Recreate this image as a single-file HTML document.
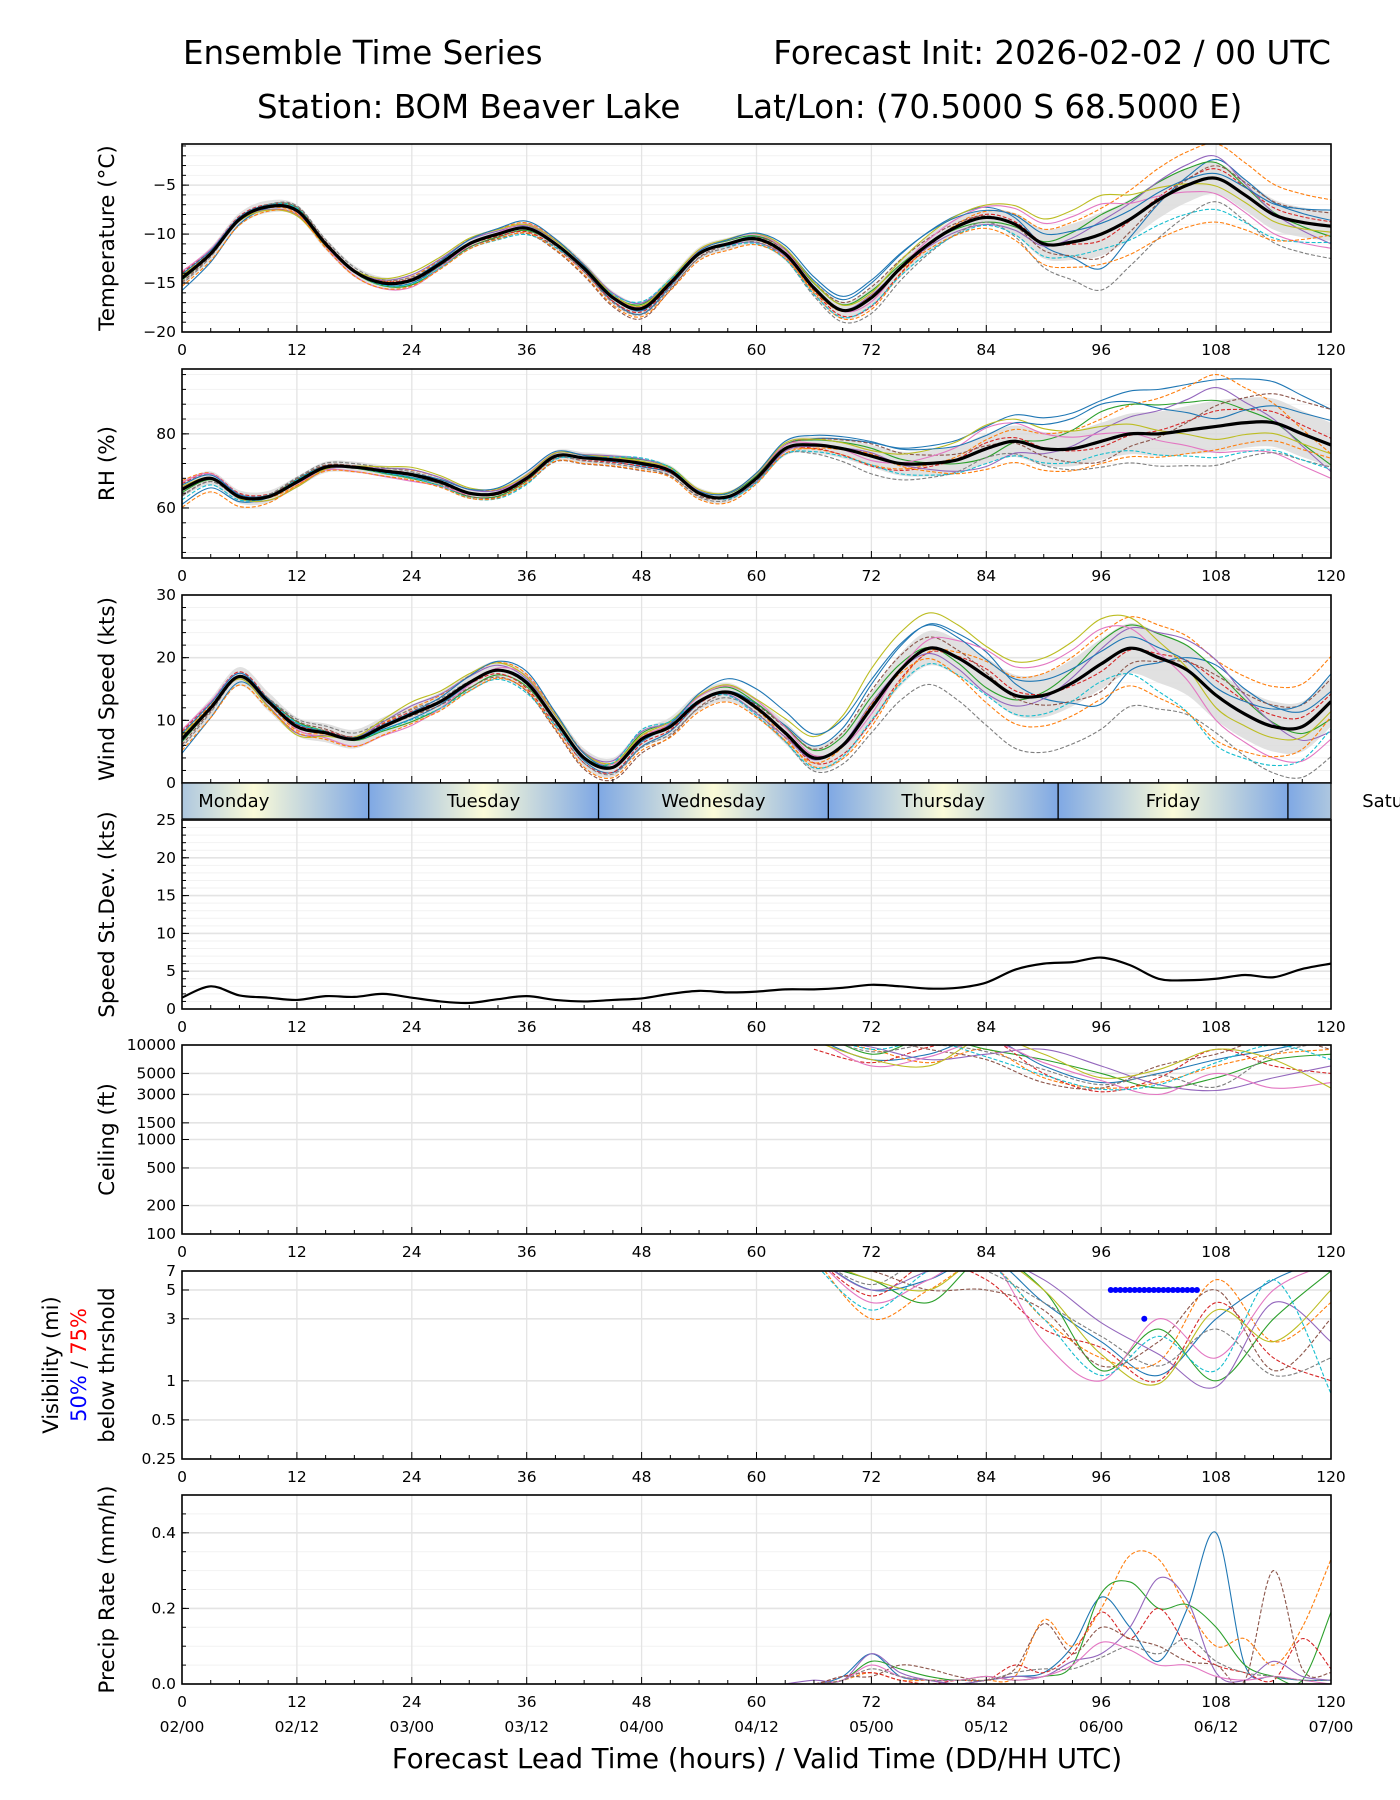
<!DOCTYPE html>
<html><head><meta charset="utf-8"><style>
html,body{margin:0;padding:0;background:#fff}
svg{display:block;font-family:"DejaVu Sans","Liberation Sans",sans-serif}
</style></head><body>
<svg id="fig" width="1400" height="1800" viewBox="0 0 1400 1800" xmlns="http://www.w3.org/2000/svg">
<text x="183" y="64" font-size="32.5">Ensemble Time Series</text>
<text x="1331" y="64" font-size="32.5" text-anchor="end">Forecast Init: 2026-02-02 / 00 UTC</text>
<text x="257" y="118" font-size="32.5">Station: BOM Beaver Lake</text>
<text x="735" y="118" font-size="32.5">Lat/Lon: (70.5000 S 68.5000 E)</text>
<text x="757" y="1768" font-size="27.5" text-anchor="middle">Forecast Lead Time (hours) / Valid Time (DD/HH UTC)</text>
<g id="plots"></g>
</svg>
<script>
// ---------- data ----------
const hours3 = [0,3,6,9,12,15,18,21,24,27,30,33,36,39,42,45,48,51,54,57,60,63,66,69,72,75,78,81,84,87,90,93,96,99,102,105,108,111,114,117,120];
const hours12 = [0,12,24,36,48,60,72,84,96,108,120];
const tempMean = [-14.5,-12,-8.5,-7.2,-7.6,-11,-13.8,-15,-14.7,-13,-11,-10,-9.4,-11,-13.5,-16.5,-17.6,-15,-12,-11,-10.5,-12,-15.5,-17.8,-16.5,-13.5,-11,-9.2,-8.3,-9,-11,-10.8,-10,-8.5,-6.5,-5,-4.3,-6,-8,-8.8,-9.2];
const tempSpread = [0.7,0.6,0.6,0.6,0.7,0.6,1,0.8,2.2,1.6,1.5];
const tempZ = [
[-1.8,0.3,-0.5,0.2,-0.8,0.4,1.5,1.3,-1.6,1.2,0.4],[0.5,-0.4,0.6,0.9,0.3,-0.2,-1.2,0.8,1.2,2.2,1.8],
[-0.3,0.5,-0.8,-0.4,0.6,0.5,0.7,-0.6,0.9,1.0,-0.7],[0.8,0.2,0.3,-0.6,-0.5,0.1,-0.9,0.4,-0.3,0.6,0.3],
[0.2,-0.7,0.9,0.4,0.8,-0.6,0.3,-0.9,0.6,1.4,-1.2],[-0.6,0.6,-0.2,-0.9,-1.5,0.3,1.1,0.2,-1.1,0.8,0.9],
[1.0,-0.3,-1.2,0.7,0.2,0.8,-0.4,1.4,1.4,-1.0,-1.5],[-0.9,0.8,0.5,-0.2,-0.9,-0.5,-1.6,-0.6,-2.6,-1.5,-2.2],
[0.4,-0.9,1.3,0.6,0.4,0.9,0.5,1.6,1.8,-0.5,-0.4],[-0.2,0.4,-0.6,-1.1,1.0,-0.8,-0.8,-1.0,-0.7,-2.0,-1.1],
[0.6,0.1,0.2,1.2,-0.3,1.0,1.8,0.9,0.5,0.3,1.1],[-1.2,-0.6,-1.0,-0.8,-1.2,-1.0,0.2,-1.4,-1.4,-2.8,-0.6]];
const rhMean = [65,68,63,63,67,71,71,70,69,67,64,64,68,74,73.5,73,72,70,64,63,68,76,77,76,74,72,72,73,76,78,76,76,78,80,80,81,82,83,83,80,77];
const rhSpread = [2,1.5,1.5,1.5,1.5,1.5,3,4,5,7,6];
const rhZ = [
[-2,0.5,-0.5,0.4,-0.6,0.3,1.2,1.5,2.2,1.8,1.6],[1.2,-0.6,0.8,0.6,0.4,-0.2,-0.8,0.6,1.2,2.0,-0.4],
[-0.4,0.4,-0.7,-0.5,0.7,0.5,0.7,-0.6,1.6,1.0,-0.9],[0.8,0.3,0.2,-0.4,-0.5,0.1,-0.9,0.4,-0.3,0.6,0.3],
[0.3,-0.9,0.9,0.4,0.8,-0.6,0.3,-1.2,0.6,1.5,-1.2],[-0.8,0.6,-0.2,-0.9,-1.3,0.3,1.1,0.2,-1.1,0.8,1.6],
[1.0,-0.3,-1.2,0.7,0.2,0.8,-0.4,1.4,0.4,-1.0,-1.5],[-0.9,0.8,0.5,-0.2,-0.9,-0.5,-1.6,-0.6,-1.4,-1.5,-1.0],
[0.4,-0.9,1.3,0.6,0.4,0.9,0.5,1.6,0.8,-0.5,-0.4],[-1.4,0.4,-0.6,-1.1,1.0,-0.8,-0.8,-1.0,-0.7,-1.2,-1.1],
[0.6,0.1,0.2,1.2,-0.3,1.0,1.3,0.9,2.0,0.3,1.1],[-2.4,-0.6,-1.0,-0.8,-1.2,-1.0,0.2,-1.4,-1.2,-0.9,-0.6]];
const windMean = [7,12,17,13,9,8,7,9,11,13,16,18,16,10,4,2.5,7,9,13,14.5,12,8,4,6,12,18,21.5,20,17,14,14,16,19,21.5,20,18,14,11,9,9,13];
const windSpread = [1.5,1.5,1.5,1.5,1.5,1.5,2.5,3,4,4,4];
const windZ = [
[-1.5,0.3,-0.5,0.2,-0.8,0.4,1.5,1.3,-1.6,1.2,0.4],[0.5,-0.4,0.6,0.9,0.3,-0.2,-1.2,0.8,1.2,1.4,1.8],
[-0.3,0.5,-0.8,-0.4,0.6,0.5,0.7,-0.6,0.9,1.0,-0.7],[0.8,0.2,0.3,-0.6,-0.5,0.1,-0.9,0.4,-0.3,0.6,0.3],
[0.2,-0.7,0.9,0.4,0.8,-0.6,0.3,-0.9,0.6,1.4,-1.2],[-0.6,0.6,-0.2,-0.9,-1.5,0.3,1.1,0.2,-1.1,0.8,0.9],
[1.0,-0.3,-1.2,0.7,0.2,0.8,-0.4,1.4,1.4,-1.0,-1.5],[-0.9,0.8,0.5,-0.2,-0.9,-0.5,-1.6,-2.6,-2.6,-1.5,-2.2],
[0.4,-0.9,1.3,0.6,0.4,0.9,2.5,1.6,1.8,-0.5,-0.4],[-0.2,0.4,-0.6,-1.1,1.0,-0.8,-0.8,-1.0,-0.7,-2.0,-1.1],
[0.6,0.1,0.2,1.2,-0.3,2.0,1.8,0.9,0.5,0.3,1.1],[-1.2,-0.6,-1.0,-0.8,-1.2,-1.0,0.2,-1.4,-1.4,-1.8,-0.6]];
const sdevMean = [1.5,3,1.8,1.5,1.2,1.7,1.6,2,1.5,1,0.8,1.3,1.7,1.2,1,1.2,1.4,2,2.4,2.2,2.3,2.6,2.6,2.8,3.2,3,2.7,2.8,3.5,5.2,6,6.2,6.8,5.8,4,3.8,4,4.5,4.2,5.3,6];
const hours6late = [66,72,78,84,90,96,102,108,114,120];
const ceilMembers = [
[12000,7000,8000,12000,6000,4000,5000,7000,9000,12000],[12000,9000,6500,9000,4500,3500,4000,6000,8000,9000],
[15000,8000,12000,9000,7000,5000,3500,4500,7000,8000],[9000,6500,9500,12000,5000,3200,4500,9000,6000,5000],
[12000,9500,7000,8000,9000,6000,3800,3300,4500,6000],[15000,12000,9000,7000,4000,3500,6000,8000,12000,9000],
[12000,6000,7500,11000,6500,4200,3000,5000,3500,4000],[13000,8500,10000,8500,5500,3800,4800,3600,8000,11000],
[11000,7000,6000,12000,8000,4500,5500,9000,7000,3500],[14000,9000,11000,7500,4800,3400,3800,6500,10000,7000]];
const visMembers = [
[9,5,6,9,4,2,1.1,3,6,9],[9,3,5,8,3,1.5,1.4,6,2,4],[8,6,4,9,5,1.2,2.5,1,3,7],[9,4.5,8,6,2.5,1.8,1,4,1.5,1],
[9,5,7,9,6,2.8,1.6,0.9,4,2],[8,7,5,5,3.5,1.3,2,5,1.2,3],[9,4,6,9,2,1,3,1.5,5,8],[9,5.5,9,7,4,2.2,1.3,2.5,1.1,1.5],
[9,6,5,9,5,1.6,0.95,3.5,2,5],[8,3.5,7,8,3,1.1,2.2,1.2,6,0.8]];
const visBlueH = [97,97.5,98,98.5,99,99.5,100,100.5,101,101.5,102,102.5,103,103.5,104,104.5,105,105.5,106];
const visBlueV = [5,5,5,5,5,5,5,5,5,5,5,5,5,5,5,5,5,5,5];
const visRedH = [100.5];
const visRedV = [3];
const hoursPrecip = [63,66,69,72,75,78,81,84,87,90,93,96,99,102,105,108,111,114,117,120];
const precipMembers = [
[0,0,0.02,0.08,0.02,0.01,0,0.01,0.02,0.03,0.1,0.23,0.15,0.06,0.2,0.4,0.05,0.02,0.01,0.01],
[0,0,0.01,0.03,0.01,0.01,0.01,0.01,0.02,0.17,0.1,0.2,0.34,0.33,0.2,0.1,0.12,0.05,0.15,0.33],
[0,0,0.01,0.06,0.04,0.02,0.01,0.02,0.01,0.02,0.05,0.24,0.27,0.2,0.21,0.15,0.05,0.02,0.01,0.19],
[0,0,0.02,0.03,0.01,0,0.01,0.01,0.05,0.03,0.08,0.19,0.12,0.2,0.1,0.05,0.03,0.01,0.12,0.04],
[0,0.01,0.01,0.08,0.03,0.01,0,0.01,0.02,0.02,0.06,0.08,0.15,0.28,0.22,0.03,0.01,0.06,0.02,0.01],
[0,0,0.02,0.02,0.05,0.04,0.02,0.01,0.04,0.16,0.08,0.15,0.12,0.1,0.06,0.05,0.01,0.3,0.04,0.03],
[0,0,0.01,0.05,0.02,0.01,0.01,0.02,0.01,0.02,0.05,0.11,0.09,0.05,0.05,0.02,0.01,0.02,0.01,0],
[0,0,0.01,0.04,0.02,0.01,0.01,0.01,0.03,0.04,0.04,0.07,0.1,0.08,0.12,0.06,0.03,0.02,0.01,0.01]];
const dayNames = ["Monday","Tuesday","Wednesday","Thursday","Friday","Saturday"];
const dayStartH = [-4.5,19.5,43.5,67.5,91.5,115.5];
const xTicks = [0,12,24,36,48,60,72,84,96,108,120];
const dateLabels = ["02/00","02/12","03/00","03/12","04/00","04/12","05/00","05/12","06/00","06/12","07/00"];
// ---------- helpers ----------
const NS="http://www.w3.org/2000/svg";
const root=document.getElementById('plots');
const L=182,R=1331;
const X=h=>L+h*(R-L)/120;
const colors=["#1f77b4","#ff7f0e","#2ca02c","#d62728","#9467bd","#8c564b","#e377c2","#7f7f7f","#bcbd22","#17becf","#1f77b4","#ff7f0e"];
function mk(tag,attrs,parent){const e=document.createElementNS(NS,tag);for(const k in attrs)e.setAttribute(k,attrs[k]);(parent||root).appendChild(e);return e;}
function smooth(pts){if(!pts.length)return"";let d=`M${pts[0][0]},${pts[0][1]}`;for(let i=0;i<pts.length-1;i++){const p0=pts[Math.max(0,i-1)],p1=pts[i],p2=pts[i+1],p3=pts[Math.min(pts.length-1,i+2)];d+=` C${p1[0]+(p2[0]-p0[0])/6},${p1[1]+(p2[1]-p0[1])/6} ${p2[0]-(p3[0]-p1[0])/6},${p2[1]-(p3[1]-p1[1])/6} ${p2[0]},${p2[1]}`;}return d;}
function at12(arr,h){const i=Math.min(9,Math.floor(h/12));const f=(h-i*12)/12;return arr[i]*(1-f)+arr[i+1]*f;}
let clipN=0;
function panel(name,top,bot,ymin,ymax,log,yt,ytl,label,minorY){
  const Y=v=>log?bot-(Math.log(v)-Math.log(ymin))/(Math.log(ymax)-Math.log(ymin))*(bot-top):bot-(v-ymin)/(ymax-ymin)*(bot-top);
  const g=mk('g',{});
  
  
  const id='c'+(clipN++);
  const cp=mk('clipPath',{id},g);mk('rect',{x:L,y:top,width:R-L,height:bot-top},cp);
  (minorY||[]).forEach(v=>mk('line',{x1:L,x2:R,y1:Y(v),y2:Y(v),stroke:'#f2f2f2','stroke-width':1},g));
  xTicks.forEach(h=>mk('line',{x1:X(h),x2:X(h),y1:top,y2:bot,stroke:'#e4e4e4','stroke-width':1.3},g));
  yt.forEach(v=>mk('line',{x1:L,x2:R,y1:Y(v),y2:Y(v),stroke:'#e4e4e4','stroke-width':1.6},g));
  const plot=mk('g',{'clip-path':`url(#${id})`},g);
  mk('rect',{x:L,y:top,width:R-L,height:bot-top,fill:'none',stroke:'#000','stroke-width':1.6},g);
  for(let h=0;h<=120;h+=3){const big=h%12===0;mk('line',{x1:X(h),x2:X(h),y1:bot,y2:bot-(big?7:4),stroke:'#000','stroke-width':1},g);}
  (minorY||[]).forEach(v=>mk('line',{x1:L,x2:L+4,y1:Y(v),y2:Y(v),stroke:'#000','stroke-width':1},g));
  yt.forEach((v,i)=>{mk('line',{x1:L,x2:L+7,y1:Y(v),y2:Y(v),stroke:'#000','stroke-width':1},g);
    const t=mk('text',{x:L-6,y:Y(v)+5,'font-size':15.5,'text-anchor':'end'},g);t.textContent=ytl[i];
    
    });
  if(label){const cy=(top+bot)/2;const t=mk('text',{x:0,y:0,'font-size':21.5,'text-anchor':'middle',transform:`translate(114,${cy}) rotate(-90)`},g);t.textContent=label;
    
    }
  return {Y,plot,g,top,bot};
}
function xLabels(bot,withDates){xTicks.forEach((h,i)=>{const t=mk('text',{x:X(h),y:bot+23,'font-size':15.5,'text-anchor':'middle'});t.textContent=h;
  
  
  if(withDates){const d=mk('text',{x:X(h),y:bot+48,'font-size':15.5,'text-anchor':'middle'});d.textContent=dateLabels[i];
  
  }});}
function ensemble(P,mean,spread,Z){
  const up=hours3.map((h,i)=>[X(h),P.Y(mean[i]+at12(spread,h))]);
  const dn=hours3.map((h,i)=>[X(h),P.Y(mean[i]-at12(spread,h))]).reverse();
  const band=mk('path',{d:smooth(up)+' L'+smooth(dn).slice(1)+' Z',fill:'#d9d9d9','fill-opacity':0.8,stroke:'none'},P.plot);
  
  
  Z.forEach((z,m)=>{const pts=hours3.map((h,i)=>[X(h),P.Y(mean[i]+at12(spread,h)*at12(z,h))]);
    const p=mk('path',{d:smooth(pts),fill:'none',stroke:colors[m],'stroke-width':1.1,'stroke-dasharray':m%2?'4 2':'none'},P.plot);
    
    });
  const ml=mk('path',{d:smooth(hours3.map((h,i)=>[X(h),P.Y(mean[i])])),fill:'none',stroke:'#000','stroke-width':3.2},P.plot);
  
  
}
function members(P,hrs,M,clampMax){M.forEach((arr,m)=>{const pts=hrs.map((h,i)=>[X(h),P.Y(Math.min(arr[i],clampMax))]);
  const p=mk('path',{d:smooth(pts),fill:'none',stroke:colors[m],'stroke-width':1.1,'stroke-dasharray':m%2?'4 2':'none'},P.plot);
  
  });}
function minor(a,b,s){const o=[];for(let v=a;v<=b+1e-9;v+=s)o.push(+v.toFixed(3));return o;}
// ---------- panels ----------
const T=panel('temperature',144,332,-20,-0.8,false,[-5,-10,-15,-20],['−5','−10','−15','−20'],'Temperature (°C)',minor(-20,-1,1));
ensemble(T,tempMean,tempSpread,tempZ);xLabels(332);
const H=panel('rh',369,558,46.5,97.5,false,[60,80],['60','80'],'RH (%)',minor(48,96,4));
ensemble(H,rhMean,rhSpread,rhZ);xLabels(558);
const W=panel('wind-speed',595,783,0,30,false,[0,10,20,30],['0','10','20','30'],'Wind Speed (kts)',minor(0,30,2));
ensemble(W,windMean,windSpread,windZ);
// day bar
const db=mk('g',{});


const defs=mk('defs',{},db);const gr=mk('linearGradient',{id:'dayg',x1:0,x2:1,y1:0,y2:0},defs);
[['0','#7fa8e4'],['0.5','#fbfbd8'],['1','#7fa8e4']].forEach(s=>mk('stop',{offset:s[0],'stop-color':s[1]},gr));
const dcp=mk('clipPath',{id:'dayclip'},db);mk('rect',{x:L,y:783,width:R-L,height:36},dcp);
const dg=mk('g',{'clip-path':'url(#dayclip)'},db);
dayStartH.forEach((h,i)=>{mk('rect',{x:X(h),y:783,width:X(24)-X(0),height:36,fill:'url(#dayg)'},dg);
  if(i>0&&h<120)mk('line',{x1:X(h),x2:X(h),y1:783,y2:819,stroke:'#000','stroke-width':1.3},db);
  const t=mk('text',{x:X(Math.max(h,-4.5)+12)+ (i===0?-20:0),y:807,'font-size':18,'text-anchor':'middle'},db);
  t.textContent=dayNames[i];
  
  });
mk('rect',{x:L,y:783,width:R-L,height:36,fill:'none',stroke:'#000','stroke-width':1.3},db);
const S=panel('speed-stdev',820,1009,0,25,false,[0,5,10,15,20,25],['0','5','10','15','20','25'],'Speed St.Dev. (kts)',minor(0,25,1));
const sl=mk('path',{d:smooth(hours3.map((h,i)=>[X(h),S.Y(sdevMean[i])])),fill:'none',stroke:'#000','stroke-width':2.2},S.plot);


xLabels(1009);
const C=panel('ceiling',1045,1234,100,10000,true,[10000,5000,3000,1500,1000,500,200,100],['10000','5000','3000','1500','1000','500','200','100'],'Ceiling (ft)',[]);
members(C,hours6late,ceilMembers,20000);xLabels(1234);
const V=panel('visibility',1271,1459,0.25,7,true,[7,5,3,1,0.5,0.25],['7','5','3','1','0.5','0.25'],null,[]);
members(V,hours6late,visMembers,12);
visBlueH.forEach((h,i)=>{const c=mk('circle',{cx:X(h),cy:V.Y(visBlueV[i]),r:3,fill:'#0000ff'},V.plot);});
visRedH.forEach((h,i)=>{const c=mk('circle',{cx:X(h),cy:V.Y(visRedV[i]),r:3,fill:'#0000ff'},V.plot);});
xLabels(1459);
const vl=mk('text',{'font-size':21,'text-anchor':'middle',transform:'translate(58,1365) rotate(-90)'});vl.textContent='Visibility (mi)';

const vl2=mk('text',{'font-size':21,'text-anchor':'middle',transform:'translate(86,1365) rotate(-90)'});
vl2.innerHTML='<tspan fill="#0000ff">50%</tspan> / <tspan fill="#ff0000">75%</tspan>';

const vl3=mk('text',{'font-size':21,'text-anchor':'middle',transform:'translate(114,1365) rotate(-90)'});vl3.textContent='below thrshold';

const Pp=panel('precip',1495,1684,0,0.5,false,[0,0.2,0.4],['0.0','0.2','0.4'],'Precip Rate (mm/h)',minor(0,0.5,0.05));
members(Pp,hoursPrecip,precipMembers,1);xLabels(1684,true);
</script>
</body></html>
